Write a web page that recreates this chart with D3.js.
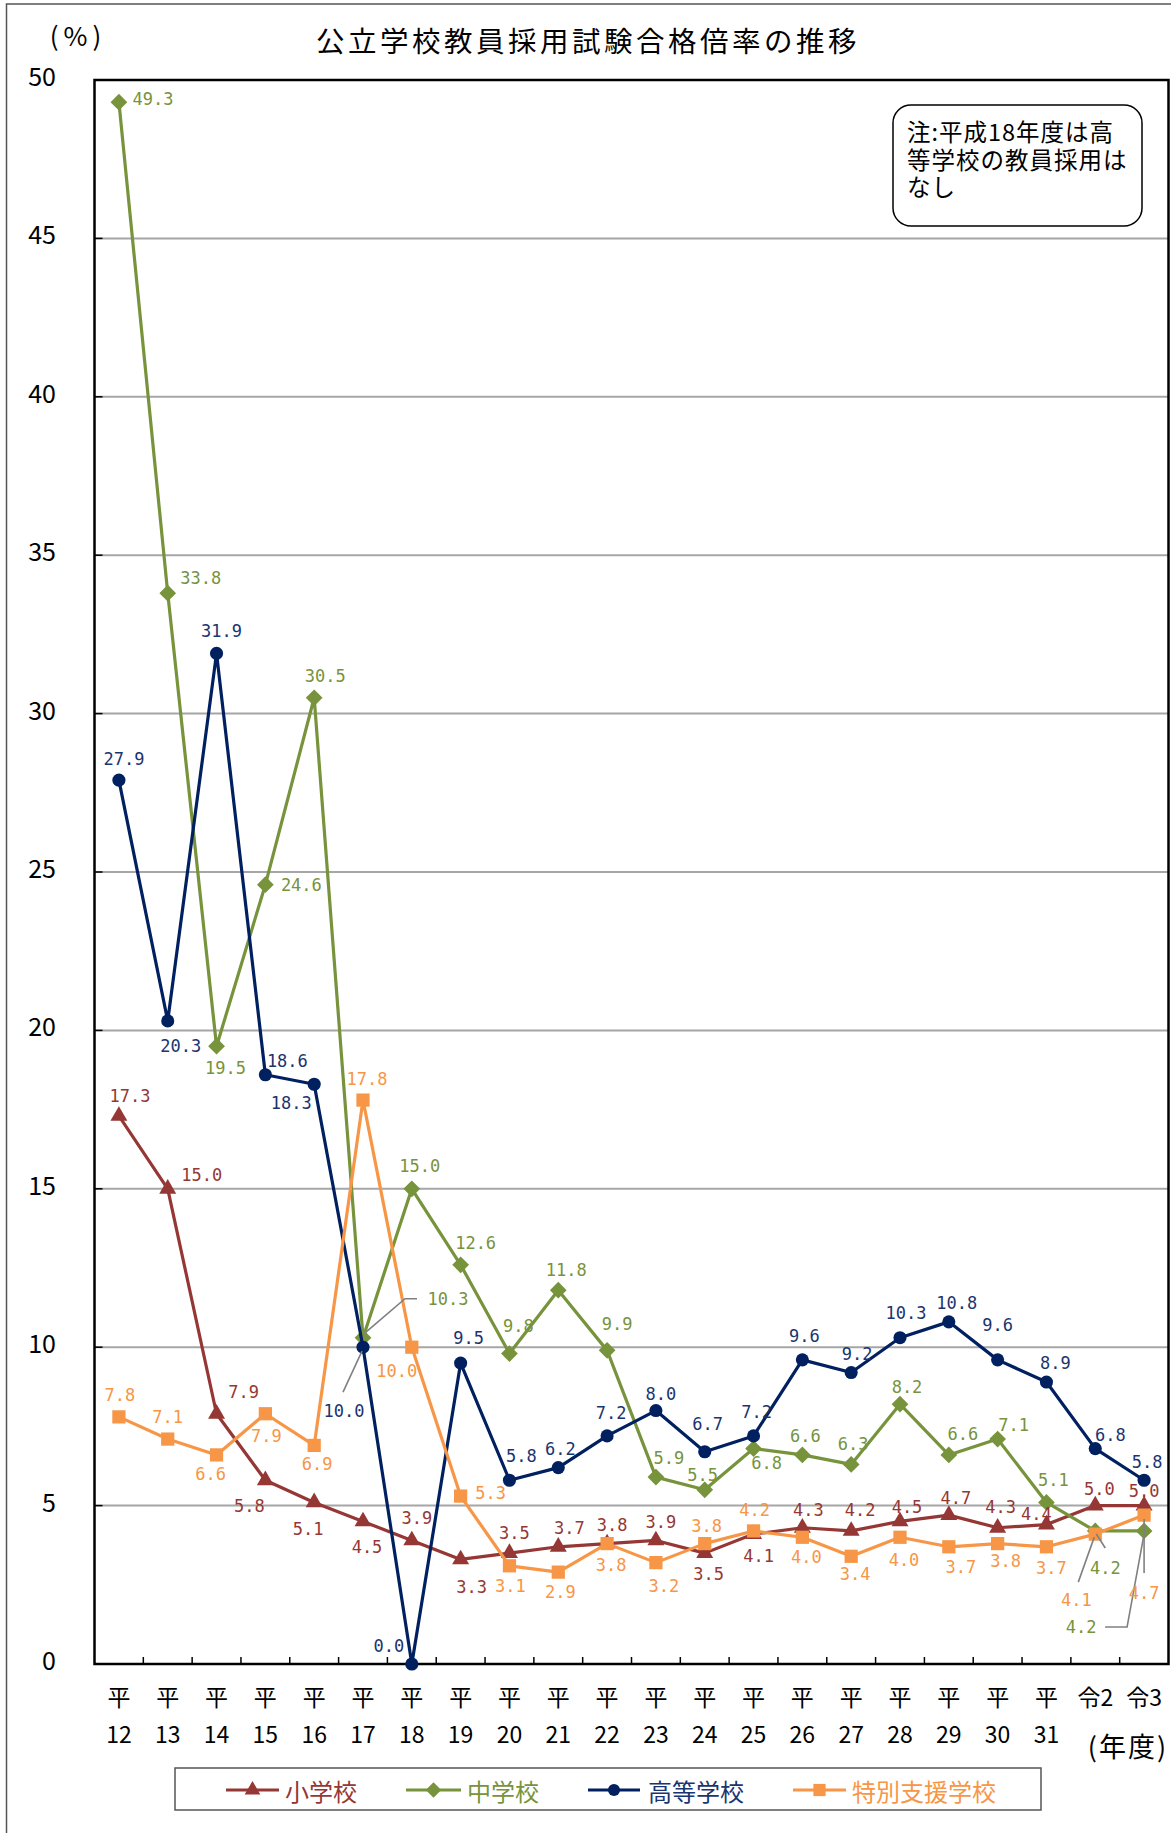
<!DOCTYPE html>
<html><head><meta charset="utf-8">
<script src="https://cdn.jsdelivr.net/npm/d3@7"></script>
<style>html,body{margin:0;padding:0;background:#fff;} svg{display:block;}</style>
</head><body>
<svg id="chart" width="1171" height="1833"></svg>
<script>
// ---------- data ----------
const categories = ["平12","平13","平14","平15","平16","平17","平18","平19","平20","平21","平22","平23","平24","平25","平26","平27","平28","平29","平30","平31","令2","令3"];
const seriesNames = ["小学校","中学校","高等学校","特別支援学校"];
const elementary   = [17.3,15.0,7.9,5.8,5.1,4.5,3.9,3.3,3.5,3.7,3.8,3.9,3.5,4.1,4.3,4.2,4.5,4.7,4.3,4.4,5.0,5.0];
const juniorHigh   = [49.3,33.8,19.5,24.6,30.5,10.3,15.0,12.6,9.8,11.8,9.9,5.9,5.5,6.8,6.6,6.3,8.2,6.6,7.1,5.1,4.2,4.2];
const highSchool   = [27.9,20.3,31.9,18.6,18.3,10.0,0.0,9.5,5.8,6.2,7.2,8.0,6.7,7.2,9.6,9.2,10.3,10.8,9.6,8.9,6.8,5.8];
const specialNeeds = [7.8,7.1,6.6,7.9,6.9,17.8,10.0,5.3,3.1,2.9,3.8,3.2,3.8,4.2,4.0,3.4,4.0,3.7,3.8,3.7,4.1,4.7];
const yTicks = [0,5,10,15,20,25,30,35,40,45,50];
const titleText = "公立学校教員採用試験合格倍率の推移";
const unitText = "(%)";
const xUnitText = "(年度)";
const noteLines = ["注:平成18年度は高","等学校の教員採用は","なし"];

// ---------- layout (label placement relative to each point) ----------
const elemOff = [[11,-20],[34,-14],[27,-22],[-16,26],[-6,27],[4,26],[5,-22],[11,28],[5,-20],[11,-19],[5,-19],[5,-18],[4,21],[5,22],[6,-18],[9,-21],[7,-14],[7,-17],[3,-21],[-10,-11],[4,-17],[0,-15]];
const juniorOff = [[34,-3],[33,-15],[9,22],[36,0],[11,-22],[85,-39],[8,-23],[15,-22],[9,-28],[8,-20],[10,-26],[13,-19],[-2,-15],[13,14],[3,-19],[2,-20],[7,-17],[14,-21],[16,-14],[7,-22],[10,37],[-63,96]];
const highOff = [[5,-21],[13,25],[5,-22],[22,-14],[-23,19],[-19,64],[-23,-18],[8,-25],[12,-24],[2,-19],[4,-23],[5,-17],[3,-28],[3,-24],[2,-24],[6,-19],[6,-25],[8,-19],[0,-35],[9,-19],[15,-14],[3,-18]];
const specialOff = [[1,-22],[0,-22],[-6,19],[1,22],[3,19],[4,-21],[-15,24],[30,-3],[1,20],[2,20],[4,21],[8,23],[2,-18],[1,-21],[4,20],[4,18],[4,23],[12,20],[8,17],[5,21],[-19,66],[0,78]];
const leaders = [
  {s:1,i:5,pts:[[0,-3],[42,-39],[54,-39]]},
  {s:2,i:5,pts:[[-1,4],[-20,45]]},
  {s:1,i:20,pts:[[1,3],[10,17]]},
  {s:1,i:21,pts:[[0,3],[-17,96],[-39,96]]},
  {s:3,i:20,pts:[[-1,3],[-17,48]]},
  {s:3,i:21,pts:[[0,4],[0,58]]}
];

const series = [
  {name:seriesNames[0], values:elementary, off:elemOff, color:"#953735", label:"#953735", sym:d3.symbolTriangle, size:125, rot:0},
  {name:seriesNames[1], values:juniorHigh, off:juniorOff, color:"#77933C", label:"#77933C", sym:d3.symbolSquare, size:140, rot:45},
  {name:seriesNames[2], values:highSchool, off:highOff, color:"#002060", label:"#1A3470", sym:d3.symbolCircle, size:135, rot:0},
  {name:seriesNames[3], values:specialNeeds, off:specialOff, color:"#F79646", label:"#F79646", sym:d3.symbolSquare, size:175, rot:0}
];

const JP = "'Noto Sans CJK JP','Noto Sans',sans-serif";
const NUM = "'DejaVu Sans Mono',monospace";

const svg = d3.select("#chart");
const L = 94.5, R = 1168.5, T = 80, B = 1664;

const x = d3.scaleBand().domain(categories).range([L, R]).padding(0);
const y = d3.scaleLinear().domain([0, 50]).range([B, T]);
const cx = c => x(c) + x.bandwidth()/2;

// outer frame
svg.append("rect").attr("x",6.5).attr("y",4).attr("width",1180).attr("height",1840)
  .attr("fill","none").attr("stroke","#555").attr("stroke-width",1.5);

// gridlines
svg.append("g").selectAll("line").data(yTicks.filter(d=>d>0)).join("line")
  .attr("x1",L).attr("x2",R).attr("y1",d=>y(d)).attr("y2",d=>y(d))
  .attr("stroke","#A6A6A6").attr("stroke-width",2);

// y axis labels
svg.append("g").selectAll("text").data(yTicks).join("text")
  .attr("x",56).attr("y",d=>y(d)-5).attr("text-anchor","end").attr("dominant-baseline","central")
  .attr("font-family",JP).attr("font-size",25).attr("fill","#000").text(d=>d);

// y ticks (inside)
svg.append("g").selectAll("line").data(yTicks).join("line")
  .attr("x1",L).attr("x2",L+8).attr("y1",d=>y(d)).attr("y2",d=>y(d))
  .attr("stroke","#000").attr("stroke-width",1.5);

// x ticks at band boundaries (inside)
svg.append("g").selectAll("line").data(categories.slice(1)).join("line")
  .attr("x1",d=>x(d)).attr("x2",d=>x(d)).attr("y1",B).attr("y2",B-7)
  .attr("stroke","#000").attr("stroke-width",1.5);

// plot frame
svg.append("rect").attr("x",L).attr("y",T).attr("width",R-L).attr("height",B-T)
  .attr("fill","none").attr("stroke","#000").attr("stroke-width",2.5);

// x labels
const xl = svg.append("g").attr("font-family",JP).attr("font-size",23).attr("fill","#000").attr("text-anchor","middle");
categories.forEach(c => {
  if (c.startsWith("平")) {
    xl.append("text").attr("x",cx(c)).attr("y",1696).attr("dominant-baseline","central").text("平");
    xl.append("text").attr("x",cx(c)).attr("y",1733).attr("dominant-baseline","central").text(c.slice(1));
  } else {
    xl.append("text").attr("x",cx(c)).attr("y",1696).attr("dominant-baseline","central").text(c);
  }
});
svg.append("text").attr("x",1128).attr("y",1745).attr("text-anchor","middle").attr("dominant-baseline","central")
  .attr("font-family",JP).attr("font-size",27).attr("letter-spacing","2px").text(xUnitText);

// title and unit
svg.append("text").attr("x",588).attr("y",39).attr("text-anchor","middle").attr("dominant-baseline","central")
  .attr("font-family",JP).attr("font-size",28.5).attr("letter-spacing","3.5px").text(titleText);
svg.append("text").attr("x",78).attr("y",34).attr("text-anchor","middle").attr("dominant-baseline","central")
  .attr("font-family",JP).attr("font-size",26).attr("letter-spacing","5px").text(unitText);

// note box
svg.append("rect").attr("x",893).attr("y",105).attr("width",249).attr("height",121).attr("rx",18)
  .attr("fill","#fff").attr("stroke","#000").attr("stroke-width",1.5);
const note = svg.append("text").attr("font-family",JP).attr("font-size",23.5).attr("letter-spacing","1px");
noteLines.forEach((t,i) => {
  note.append("tspan").attr("x",907).attr("y",141+i*27.5).text(t);
});

// series lines + markers
const line = d3.line().x((d,i)=>cx(categories[i])).y(d=>y(d));
series.forEach(s => {
  svg.append("path").datum(s.values).attr("d",line).attr("fill","none")
    .attr("stroke",s.color).attr("stroke-width",3.2).attr("stroke-linejoin","round");
  svg.append("g").selectAll("path").data(s.values).join("path")
    .attr("d",d3.symbol().type(s.sym).size(s.size))
    .attr("transform",(d,i)=>`translate(${cx(categories[i])},${y(d)}) rotate(${s.rot})`)
    .attr("fill",s.color);
});

// leader lines
leaders.forEach(l => {
  const s = series[l.s];
  const px = cx(categories[l.i]), py = y(s.values[l.i]);
  svg.append("polyline").attr("points",l.pts.map(p=>[px+p[0],py+p[1]].join(",")).join(" "))
    .attr("fill","none").attr("stroke","#808080").attr("stroke-width",1.6);
});

// data labels
series.forEach(s => {
  svg.append("g").selectAll("text").data(s.values).join("text")
    .attr("x",(d,i)=>cx(categories[i])+s.off[i][0])
    .attr("y",(d,i)=>y(d)+s.off[i][1])
    .attr("text-anchor","middle").attr("dominant-baseline","central")
    .attr("font-family",NUM).attr("font-size",17).attr("fill",s.label)
    .text(d=>d.toFixed(1));
});

// legend
svg.append("rect").attr("x",175).attr("y",1768).attr("width",866).attr("height",42)
  .attr("fill","#fff").attr("stroke","#555").attr("stroke-width",1.5);
const legX = [[226,279,285],[406,461,467],[588,640,648],[793,846,852]];
series.forEach((s,k) => {
  const g = svg.append("g");
  const ly = 1790;
  g.append("line").attr("x1",legX[k][0]).attr("x2",legX[k][1]).attr("y1",ly).attr("y2",ly)
    .attr("stroke",s.color).attr("stroke-width",3.2);
  g.append("path").attr("d",d3.symbol().type(s.sym).size(s.size*0.85))
    .attr("transform",`translate(${(legX[k][0]+legX[k][1])/2},${ly}) rotate(${s.rot})`).attr("fill",s.color);
  g.append("text").attr("x",legX[k][2]).attr("y",ly).attr("dominant-baseline","central")
    .attr("font-family",JP).attr("font-size",24).attr("fill",s.label).text(s.name);
});
</script>
</body></html>
